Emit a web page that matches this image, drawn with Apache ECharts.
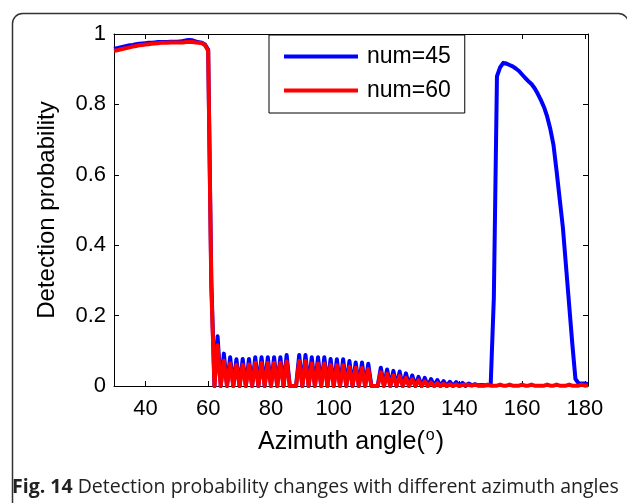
<!DOCTYPE html>
<html>
<head>
<meta charset="utf-8">
<script src="https://cdn.jsdelivr.net/npm/echarts@6/dist/echarts.min.js"></script>
<style>html,body{margin:0;padding:0;background:#fff}#c{width:627px;height:503px}</style>
</head>
<body>
<div id="c"></div>
<script>
// Azimuth angle (degrees)
var angles = [30,31,32,33,34,35,36,37,38,39,40,41,42,43,44,45,46,47,48,49,50,51,52,53,54,55,56,57,58,59,
60,61,62,63,64,65,66,67,68,69,70,71,72,73,74,75,76,77,78,79,80,81,82,83,84,85,86,87,88,89,
90,91,92,93,94,95,96,97,98,99,100,101,102,103,104,105,106,107,108,109,110,111,112,113,114,115,116,117,118,119,
120,121,122,123,124,125,126,127,128,129,130,131,132,133,134,135,136,137,138,139,140,141,142,143,144,145,146,147,148,149,
150,151,152,153,154,155,156,157,158,159,160,161,162,163,164,165,166,167,168,169,170,171,172,173,174,175,176,177,178,179,
180,181];
// num=45 (blue)
var num45 = [0.958,0.960,0.962,0.964,0.966,0.968,0.969,0.971,0.972,0.973,0.974,0.975,0.975,0.976,0.977,0.977,0.977,0.977,0.978,0.978,0.978,0.979,0.980,0.982,0.983,0.982,0.979,0.977,0.975,0.970,
0.955,0.300,0,0.141,0,0.092,0,0.082,0,0.076,0,0.077,0,0.077,0,0.082,0,0.082,0,0.082,0,0.082,0,0.082,0,0.088,0,0,0,0.088,
0,0.088,0,0.082,0,0.082,0,0.082,0,0.077,0,0.076,0,0.076,0,0.071,0,0.067,0,0.067,0,0.063,0,0,0,0.052,0,0.047,0,0.043,
0,0.041,0,0.036,0,0.030,0,0.026,0,0.023,0,0.020,0,0.017,0,0.014,0,0.012,0,0.011,0,0.009,0,0.007,0.002,0.005,0.002,0.003,0.002,0.002,
0.003,0.250,0.880,0.905,0.918,0.916,0.912,0.908,0.902,0.895,0.885,0.875,0.866,0.858,0.846,0.830,0.812,0.792,0.765,0.730,0.685,0.610,0.530,0.450,0.340,0.230,0.120,0.020,0.008,0.007,
0.007,0.006];
// num=60 (red)
var num60 = [0.952,0.954,0.956,0.958,0.960,0.962,0.964,0.966,0.968,0.969,0.970,0.971,0.972,0.973,0.974,0.975,0.975,0.975,0.976,0.976,0.976,0.976,0.976,0.977,0.977,0.977,0.976,0.975,0.974,0.968,
0.952,0.280,0,0.116,0,0.072,0,0.064,0,0.060,0,0.060,0,0.061,0,0.066,0,0.066,0,0.066,0,0.066,0,0.066,0,0.070,0,0,0,0.071,
0,0.071,0,0.064,0,0.064,0,0.064,0,0.060,0,0.059,0,0.059,0,0.055,0,0.052,0,0.051,0,0.048,0,0,0,0.039,0,0.035,0,0.030,
0,0.028,0,0.023,0,0.019,0,0.016,0,0.013,0,0.010,0,0.008,0,0.006,0,0.005,0,0.004,0,0.003,0.004,0.003,0.001,0.004,0.001,0.001,0.001,0.004,
0.001,0.001,0.001,0.004,0.001,0.001,0.004,0.001,0.001,0.001,0.004,0.001,0.001,0.004,0.001,0.001,0.001,0.001,0.004,0.001,0.001,0.004,0.001,0.001,0.001,0.004,0.001,0.001,0.001,0.004,
0.001,0.002];
var xTicks = [40,60,80,100,120,140,160,180];
var yTicks = [0,0.2,0.4,0.6,0.8,1];
var seriesNames = ['num=45','num=60'];

var chart = echarts.init(document.getElementById('c'), null, {renderer:'canvas'});
var FONT = 'Liberation Sans, Arial, sans-serif';
var CAP = 'Open Sans, Noto Sans, sans-serif';
function pairs(v){ return angles.map(function(a,i){ return [a, v[i]]; }); }
var tickStyle = {color:'#000', width:1};
chart.setOption({
  animation:false,
  backgroundColor:'#fff',
  grid:{left:114, right:39, top:34, bottom:117, containLabel:false},
  legend:{
    data:seriesNames, orient:'vertical', left:269, top:35,
    padding:[10,14,11,15], itemGap:11, itemWidth:74, itemHeight:4, icon:'rect',
    backgroundColor:'#fff', borderColor:'#000', borderWidth:1, borderRadius:0,
    textStyle:{fontSize:23, color:'#000', fontFamily:FONT, padding:[0,0,0,4]}
  },
  xAxis:[{
    type:'value', min:30, max:181, position:'bottom',
    axisLine:{onZero:false, lineStyle:{color:'#000', width:1}},
    axisTick:{inside:true, length:5, customValues:xTicks, lineStyle:tickStyle},
    axisLabel:{customValues:xTicks, fontSize:22, color:'#000', fontFamily:FONT, margin:12},
    splitLine:{show:false},
    name:'{a|Azimuth angle(}{s|o}{a|)}', nameLocation:'middle', nameGap:42,
    nameTextStyle:{fontSize:25, color:'#000', fontFamily:FONT,
      rich:{a:{fontSize:25, fontFamily:FONT, color:'#000'}, s:{fontSize:16, fontFamily:FONT, color:'#000', padding:[0,1,12,1]}}}
  },{
    type:'value', min:30, max:181, position:'top',
    axisLine:{onZero:false, lineStyle:{color:'#000', width:1}},
    axisTick:{inside:true, length:5, customValues:xTicks, lineStyle:tickStyle},
    axisLabel:{show:false}, splitLine:{show:false}
  }],
  yAxis:[{
    type:'value', min:0, max:1, interval:0.2, position:'left',
    axisLine:{show:true, onZero:false, lineStyle:{color:'#000', width:1}},
    axisTick:{show:true, inside:true, length:5, lineStyle:tickStyle},
    axisLabel:{fontSize:22, color:'#000', fontFamily:FONT, margin:8, formatter:function(v){return String(+v.toFixed(1));}},
    splitLine:{show:false},
    name:'Detection probability', nameLocation:'middle', nameGap:55, nameRotate:90,
    nameTextStyle:{fontSize:24, color:'#000', fontFamily:FONT}
  },{
    type:'value', min:0, max:1, interval:0.2, position:'right',
    axisLine:{show:true, onZero:false, lineStyle:{color:'#000', width:1}},
    axisTick:{show:true, inside:true, length:5, lineStyle:tickStyle},
    axisLabel:{show:false}, splitLine:{show:false}
  }],
  series:[{
    name:seriesNames[0], type:'line', xAxisIndex:0, yAxisIndex:0, data:pairs(num45),
    showSymbol:false, symbol:'none', lineStyle:{color:'#0000ff', width:4, join:'round'}, itemStyle:{color:'#0000ff'}, z:2
  },{
    name:seriesNames[1], type:'line', xAxisIndex:0, yAxisIndex:0, data:pairs(num60),
    showSymbol:false, symbol:'none', lineStyle:{color:'#ff0000', width:4, join:'round'}, itemStyle:{color:'#ff0000'}, z:3
  }],
  graphic:[{
    type:'rect', left:10, top:11, silent:true,
    shape:{width:616, height:520, r:10},
    style:{fill:'none', stroke:'#333', lineWidth:1.5}
  },{
    type:'text', left:12, top:477, silent:true,
    style:{
      text:'{b|Fig. 14} Detection probability changes with different azimuth angles',
      fontSize:19.5, fontFamily:CAP, fill:'#222',
      rich:{b:{fontSize:19.5, fontWeight:'bold', fontFamily:CAP, fill:'#222'}}
    }
  }]
});
</script>
</body>
</html>
